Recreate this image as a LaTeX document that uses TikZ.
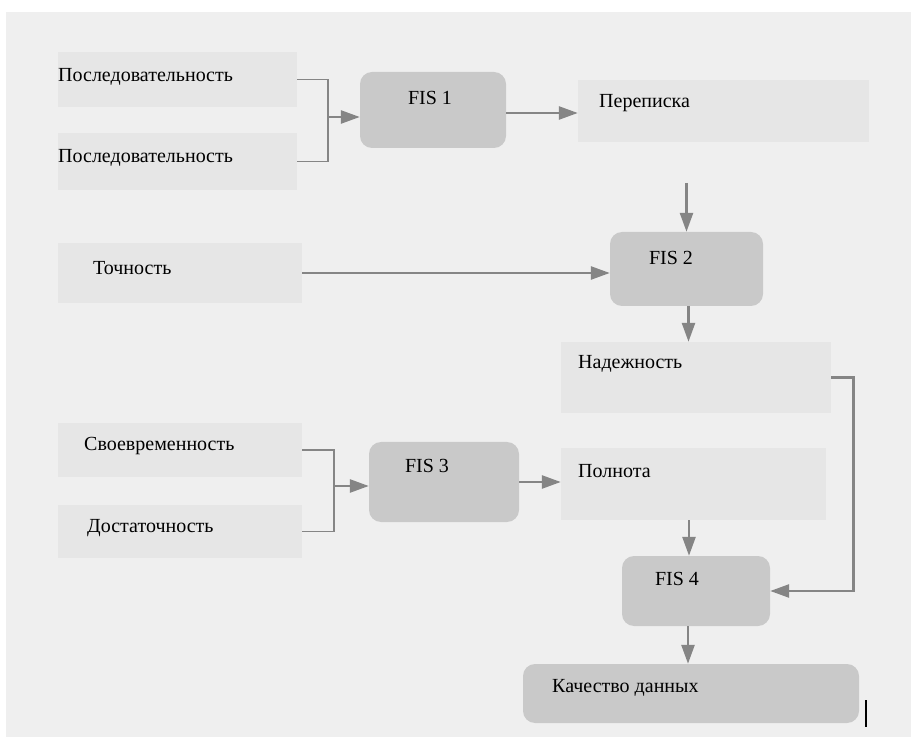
\documentclass[tikz,border=0pt]{standalone}
\usepackage{fontspec}
\setmainfont{Liberation Serif}
\usetikzlibrary{positioning}
\usetikzlibrary{arrows.meta}

\definecolor{panelgray}{HTML}{EFEFEF}
\definecolor{inputgray}{HTML}{E6E6E6}
\definecolor{fisgray}{HTML}{C9C9C9}
\definecolor{linkgray}{HTML}{858585}

\begin{document}
\begin{tikzpicture}[x=1pt, y=-1pt,
    inbox/.style={fill=inputgray, inner sep=0pt},
    fisbox/.style={fill=fisgray, rounded corners=12pt, inner sep=0pt},
    txt/.style={font=\fontsize{20}{24}\selectfont, inner sep=0pt, anchor=west},
    fistxt/.style={font=\fontsize{20}{24}\selectfont, inner sep=0pt},
    link/.style={draw=linkgray, line width=1.8pt},
    arr/.style={draw=linkgray, line width=2.6pt, -{Triangle[length=19pt, width=13pt]}}]
    % Background
    \fill[white] (0,0) rectangle (911,743);
    \fill[panelgray] (6,12) rectangle (911,737);
    \useasboundingbox (0,0) rectangle (911,743);

    % Inputs
    \node[inbox, minimum width=239pt, minimum height=55pt] (in1) at (177.5,79.5) {};
    \node[inbox, minimum width=239pt, minimum height=57pt] (in2) at (177.5,161.5) {};
    \node[inbox, minimum width=244pt, minimum height=60pt] (tochn) at (180,273) {};
    \node[inbox, minimum width=244pt, minimum height=54pt] (svoevr) at (180,450) {};
    \node[inbox, minimum width=244pt, minimum height=53pt] (dostat) at (180,531.5) {};

    % Intermediate results
    \node[inbox, minimum width=291pt, minimum height=62pt] (perep) at (723.5,111) {};
    \node[inbox, minimum width=270pt, minimum height=71pt] (nadezh) at (696,377.5) {};
    \node[inbox, minimum width=265pt, minimum height=72pt] (polnota) at (693.5,484) {};

    % FIS blocks
    \node[fisbox, minimum width=146pt, minimum height=76pt] (fis1) at (433,110) {};
    \node[fisbox, minimum width=153pt, minimum height=74pt] (fis2) at (686.5,269) {};
    \node[fisbox, minimum width=150pt, minimum height=80pt] (fis3) at (444,482) {};
    \node[fisbox, minimum width=148pt, minimum height=70pt] (fis4) at (696,591) {};
    \node[fisbox, minimum width=336pt, minimum height=59pt] (kach) at (691,693.5) {};

    % Labels
    \node[txt] (in1-t) at (58,77) {Последовательность};
    \node[txt] (in2-t) at (58,158) {Последовательность};
    \node[txt] (tochn-t) at (93,268) {Точность};
    \node[txt] (svoevr-t) at (84,446) {Своевременность};
    \node[txt] (dostat-t) at (87,528) {Достаточность};
    \node[txt] (perep-t) at (599,103) {Переписка};
    \node[txt] (nadezh-t) at (578,364) {Надежность};
    \node[txt] (polnota-t) at (578,471) {Полнота};
    \node[txt] (kach-t) at (552,688) {Качество данных};
    \node[fistxt] (fis1-t) at (430,98) {FIS 1};
    \node[fistxt] (fis2-t) at (671,258) {FIS 2};
    \node[fistxt] (fis3-t) at (427,466) {FIS 3};
    \node[fistxt] (fis4-t) at (677,579) {FIS 4};

    % Connectors
    \coordinate (j1) at (328,117);
    \coordinate (j3) at (334,486);
    \draw[link] (in1.east) -| (j1) |- (in2.east);
    \draw[arr] (j1) -- (j1 -| fis1.west);
    \draw[arr] (fis1.east |- 0,113) -- (perep.west |- 0,113);
    \draw[arr] (fis2.north |- 0,183) -- (fis2.north);
    \draw[arr] (tochn.east) -- (tochn.east -| fis2.west);
    \draw[arr] ([xshift=2pt]fis2.south) -- ([xshift=2pt]fis2.south |- nadezh.north);
    \draw[link] (svoevr.east) -| (j3) |- (dostat.east);
    \draw[arr] (j3) -- (j3 -| fis3.west);
    \draw[arr] (fis3.east) -- (fis3.east -| polnota.west);
    \draw[arr] ([xshift=-7pt]fis4.north |- polnota.south) -- ([xshift=-7pt]fis4.north);
    \draw[arr] (nadezh.east) -- ++(22,0) |- (fis4.east);
    \draw[arr] ([xshift=-8pt]fis4.south) -- ([xshift=-8pt]fis4.south |- kach.north);

    % Cursor mark
    \draw[black, line width=1.3pt] (866,700) -- (866,727);
\end{tikzpicture}
\end{document}
